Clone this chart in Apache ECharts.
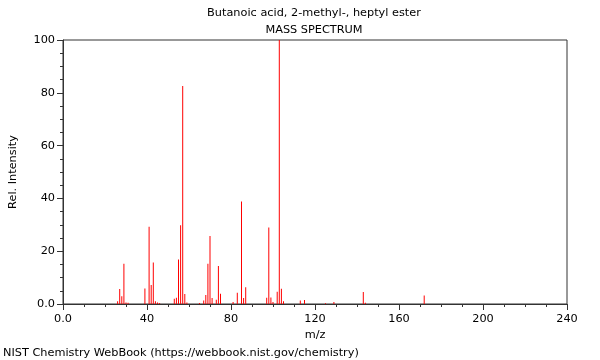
<!DOCTYPE html>
<html><head><meta charset="utf-8">
<script src="https://cdn.jsdelivr.net/npm/echarts@6/dist/echarts.min.js"></script>
<style>html,body{margin:0;padding:0;background:#fff}#c{width:600px;height:360px}</style>
</head><body><div id="c"></div>
<script>
var titleText = "Butanoic acid, 2-methyl-, heptyl ester";
var subTitle = "MASS SPECTRUM";
var footer = "NIST Chemistry WebBook (https://webbook.nist.gov/chemistry)";
var mzValues = [26,27,28,29,30,31,39,41,42,43,44,45,46,53,54,55,56,57,58,59,65,67,68,69,70,71,73,74,75,81,83,85,86,87,97,98,99,100,102,103,104,105,113,115,125,129,143,144,172];
var intensities = [1,5.7,2.9,15.2,0.6,0.5,5.9,29.3,7.2,15.7,1,0.6,0.4,2,2.4,16.9,29.8,82.6,3.8,0.6,0.4,1.3,3.4,15.2,25.8,2.3,1.6,14.4,3.9,0.8,4.3,38.8,2.3,6.3,2.4,29,2.5,0.8,4.6,100,5.8,1,1.3,1.5,0.3,0.8,4.5,0.5,3.2];
var xTicks = {min:0, max:240, step:40};
var yTicks = {min:0, max:100, step:20};

var data = mzValues.map(function(m,i){return [m, intensities[i]];});
var font = 'DejaVu Sans';
var fs = 11.3;
var chart = echarts.init(document.getElementById('c'), null, {renderer:'canvas'});
chart.setOption({
  animation:false,
  backgroundColor:'#fff',
  grid:{left:60, right:33, top:40, bottom:56, show:true, borderColor:'#333', borderWidth:1, backgroundColor:'transparent'},
  graphic:[
    {type:'text', x:314, y:8, style:{text:titleText, font:fs+'px '+font, fill:'#000', textAlign:'center'}},
    {type:'text', x:314, y:25, style:{text:subTitle, font:fs+'px '+font, fill:'#000', textAlign:'center'}},
    {type:'text', x:3, y:348, style:{text:footer, font:fs+'px '+font, fill:'#000'}}
  ],
  xAxis:{type:'value', min:xTicks.min, max:xTicks.max, interval:xTicks.step,
    name:'m/z', nameLocation:'middle', nameGap:25, nameTextStyle:{fontFamily:font, fontSize:fs, color:'#000'},
    axisLine:{onZero:false, lineStyle:{color:'#333'}},
    axisTick:{length:6, lineStyle:{color:'#333'}},
    minorTick:{show:true, splitNumber:4, length:3, lineStyle:{color:'#333'}},
    splitLine:{show:false},
    axisLabel:{fontFamily:font, fontSize:fs, color:'#000', margin:10, formatter:function(v){return v===0?'0.0':String(v);}}
  },
  yAxis:{type:'value', min:yTicks.min, max:yTicks.max, interval:yTicks.step,
    name:'Rel. Intensity', nameLocation:'middle', nameGap:44, nameTextStyle:{fontFamily:font, fontSize:fs, color:'#000'},
    axisLine:{show:true, lineStyle:{color:'#333'}},
    axisTick:{show:true, length:6, lineStyle:{color:'#333'}},
    minorTick:{show:true, splitNumber:4, length:3, lineStyle:{color:'#333'}},
    splitLine:{show:false},
    axisLabel:{fontFamily:font, fontSize:fs, color:'#000', margin:8, formatter:function(v){return v===0?'0.0':String(v);}}
  },
  series:[{type:'bar', data:data, barWidth:1, itemStyle:{color:'#ff0000'}, silent:true}]
});
</script></body></html>
